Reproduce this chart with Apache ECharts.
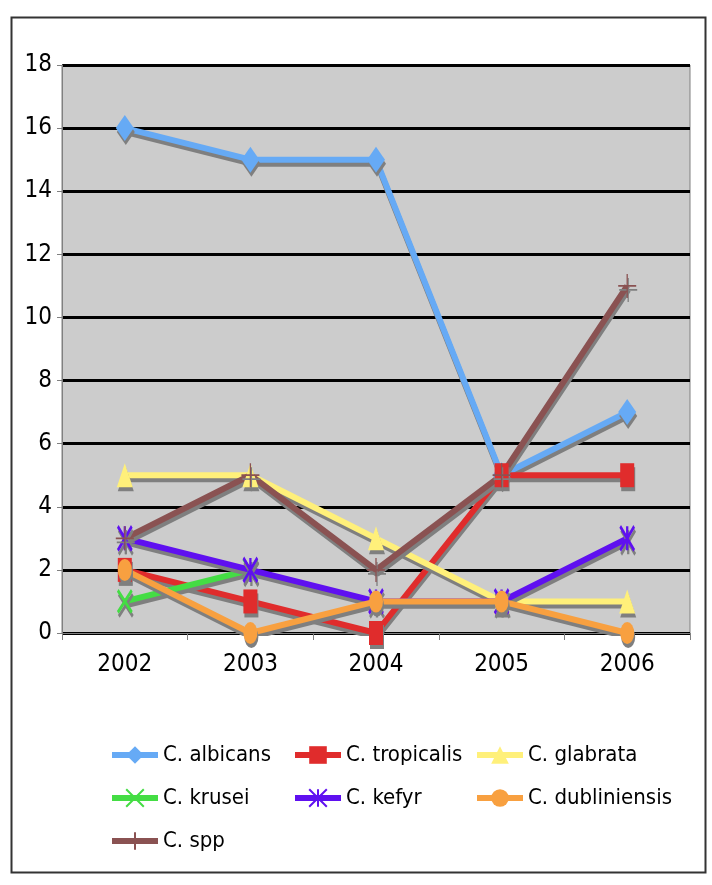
<!DOCTYPE html>
<html>
<head>
<meta charset="utf-8">
<script src="https://cdn.jsdelivr.net/npm/echarts@6/dist/echarts.min.js"></script>
<style>
html,body{margin:0;padding:0;background:#fff;}
#c{width:712px;height:885px;}
</style>
</head>
<body>
<div id="c"></div>
<script>
var years = ['2002', '2003', '2004', '2005', '2006'];
var yTicks = [0, 2, 4, 6, 8, 10, 12, 14, 16, 18];
var albicans = [16, 15, 15, 5, 7];
var tropicalis = [2, 1, 0, 5, 5];
var glabrata = [5, 5, 3, 1, 1];
var krusei = [1, 2, null, null, null];
var kefyr = [3, 2, 1, 1, 3];
var dubliniensis = [2, 0, 1, 1, 0];
var spp = [3, 5, 2, 5, 11];

var FONT = "'DejaVu Sans Condensed', sans-serif";
var shadow = {shadowColor: '#7f7f7f', shadowOffsetX: 1, shadowOffsetY: 4, shadowBlur: 0};

function mk(name, data, color, symbol, size, bw) {
  return {
    name: name, type: 'line', data: data, symbol: symbol, symbolSize: size,
    connectNulls: false,
    lineStyle: Object.assign({color: color, width: 6}, shadow),
    itemStyle: Object.assign({color: color, borderColor: color, borderWidth: bw || 0}, shadow),
    emphasis: {disabled: true},
    animation: false
  };
}

var chart = echarts.init(document.getElementById('c'), null, {renderer: 'canvas'});
var legendText = {fontFamily: FONT, fontSize: 22, color: '#000'};
function lg(left, names) {
  return {left: left, top: 739, orient: 'vertical', itemGap: 21, itemWidth: 46, itemHeight: 22,
    textStyle: legendText, data: names, selectedMode: false,
    lineStyle: {width: 6, shadowBlur: 0, shadowOffsetX: 0, shadowOffsetY: 0, shadowColor: 'transparent'},
    itemStyle: {shadowBlur: 0, shadowOffsetX: 0, shadowOffsetY: 0, shadowColor: 'transparent'}};
}
chart.setOption({
  animation: false,
  backgroundColor: '#fff',
  graphic: [{
    type: 'rect', left: 9, top: 15, shape: {width: 694, height: 855},
    style: {fill: 'none', stroke: '#333', lineWidth: 2}, z: -10
  }],
  grid: {
    left: 62, right: 22, top: 65, bottom: 252, show: true,
    backgroundColor: '#cccccc', borderColor: '#808080', borderWidth: 1
  },
  xAxis: {
    type: 'category', data: years, boundaryGap: true,
    axisLine: {lineStyle: {color: '#808080', width: 1}},
    axisTick: {show: true, length: 7, inside: false, lineStyle: {color: '#808080'}},
    axisLabel: {fontFamily: FONT, fontSize: 24, color: '#000', margin: 20}
  },
  yAxis: {
    type: 'value', min: 0, max: 18, interval: 2,
    axisLine: {show: true, lineStyle: {color: '#808080', width: 1}},
    axisTick: {show: true, length: 5, lineStyle: {color: '#808080'}},
    axisLabel: {fontFamily: FONT, fontSize: 24, color: '#000', margin: 10,
      formatter: function (v) { return yTicks.indexOf(v) >= 0 ? String(v) : ''; }},
    splitLine: {show: true, lineStyle: {color: '#000', width: 3}}
  },
  legend: [
    lg(104, ['C. albicans', 'C. krusei', 'C. spp']),
    lg(287, ['C. tropicalis', 'C. kefyr']),
    lg(469, ['C. glabrata', 'C. dubliniensis'])
  ],
  series: [
    mk('C. albicans', albicans, '#66aaf5', 'diamond', [18, 26]),
    mk('C. tropicalis', tropicalis, '#e02c2c', 'rect', [14, 24]),
    mk('C. glabrata', glabrata, '#fff07a', 'triangle', [16, 24]),
    mk('C. krusei', krusei, '#44dd44', 'path://M0,0L10,14M10,0L0,14', [14, 22], 3),
    mk('C. kefyr', kefyr, '#5f10f0', 'path://M0,0L10,14M10,0L0,14M5,0L5,14', [14, 24], 3),
    mk('C. dubliniensis', dubliniensis, '#f8a040', 'circle', [14, 22]),
    mk('C. spp', spp, '#8a5252', 'path://M5,0L5,10M0,5L10,5', [18, 24], 1.5)
  ]
});
</script>
</body>
</html>
